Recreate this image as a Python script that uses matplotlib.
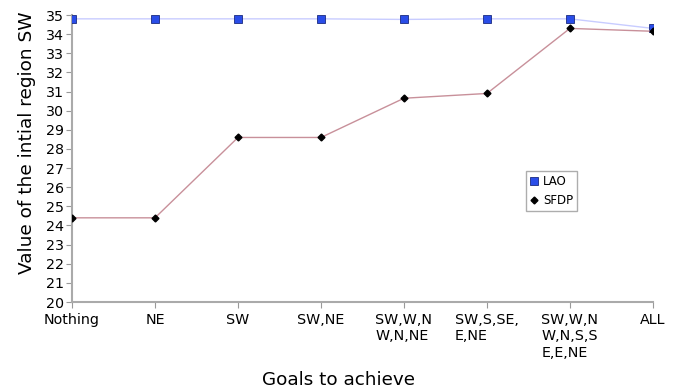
import matplotlib
matplotlib.use("Agg")
import matplotlib.pyplot as plt
import numpy as np

goals = ["Nothing", "NE", "SW", "SW,NE", "SW,W,N\nW,N,NE", "SW,S,SE,\nE,NE",
         "SW,W,N\nW,N,S,S\nE,E,NE", "ALL"]
lao = [34.8, 34.8, 34.8, 34.8, 34.77, 34.8, 34.8, 34.3]
sfdp = [24.4, 24.4, 28.6, 28.6, 30.65, 30.9, 34.3, 34.15]

fig = plt.figure(figsize=(6.77, 3.91), dpi=100)
ax = fig.add_axes([0.1064, 0.2276, 0.858, 0.734])

x = np.arange(len(goals))
ax.plot(x, lao, color="#c8ccff", lw=1, marker="s", ms=5.5,
        mfc="#2a4de8", mec="#1a2a80", mew=0.6, label="LAO", zorder=3)
ax.plot(x, sfdp, color="#c8909a", lw=1, marker="D", ms=3.5,
        mfc="black", mec="black", label="SFDP", zorder=3)

ax.set_xlim(0, len(goals) - 1)
ax.set_ylim(20, 35)
ax.set_yticks(range(20, 36))
ax.set_xticks(x)
ax.set_xticklabels(goals, fontsize=10.3, va="top", ha="center")
ax.tick_params(axis="y", labelsize=10.3, color="#999999", length=4, pad=2)
ax.tick_params(axis="x", color="#999999", length=4, pad=4)
for lbl in ax.get_xticklabels():
    lbl.set_multialignment("left")

for s in ["top", "right"]:
    ax.spines[s].set_visible(False)
for s in ["left", "bottom"]:
    ax.spines[s].set_color("#aaaaaa")
    ax.spines[s].set_linewidth(1.5)

ax.set_ylabel("Value of the intial region SW", fontsize=13.3)
ax.yaxis.set_label_coords(-0.062, 0.554)
fig.text(0.5, 0.005, "Goals to achieve", fontsize=13.2, ha="center", va="bottom")

leg = ax.legend(loc="upper left", bbox_to_anchor=(526 / 677, 1 - 171 / 391),
                bbox_transform=fig.transFigure, fontsize=8.5, frameon=True,
                fancybox=False, edgecolor="#999999", handlelength=0.7,
                handletextpad=0.4, borderpad=0.35, labelspacing=0.5,
                borderaxespad=0)
for h in leg.get_lines():
    h.set_linestyle("none")

fig.savefig("out.png", dpi=100)
